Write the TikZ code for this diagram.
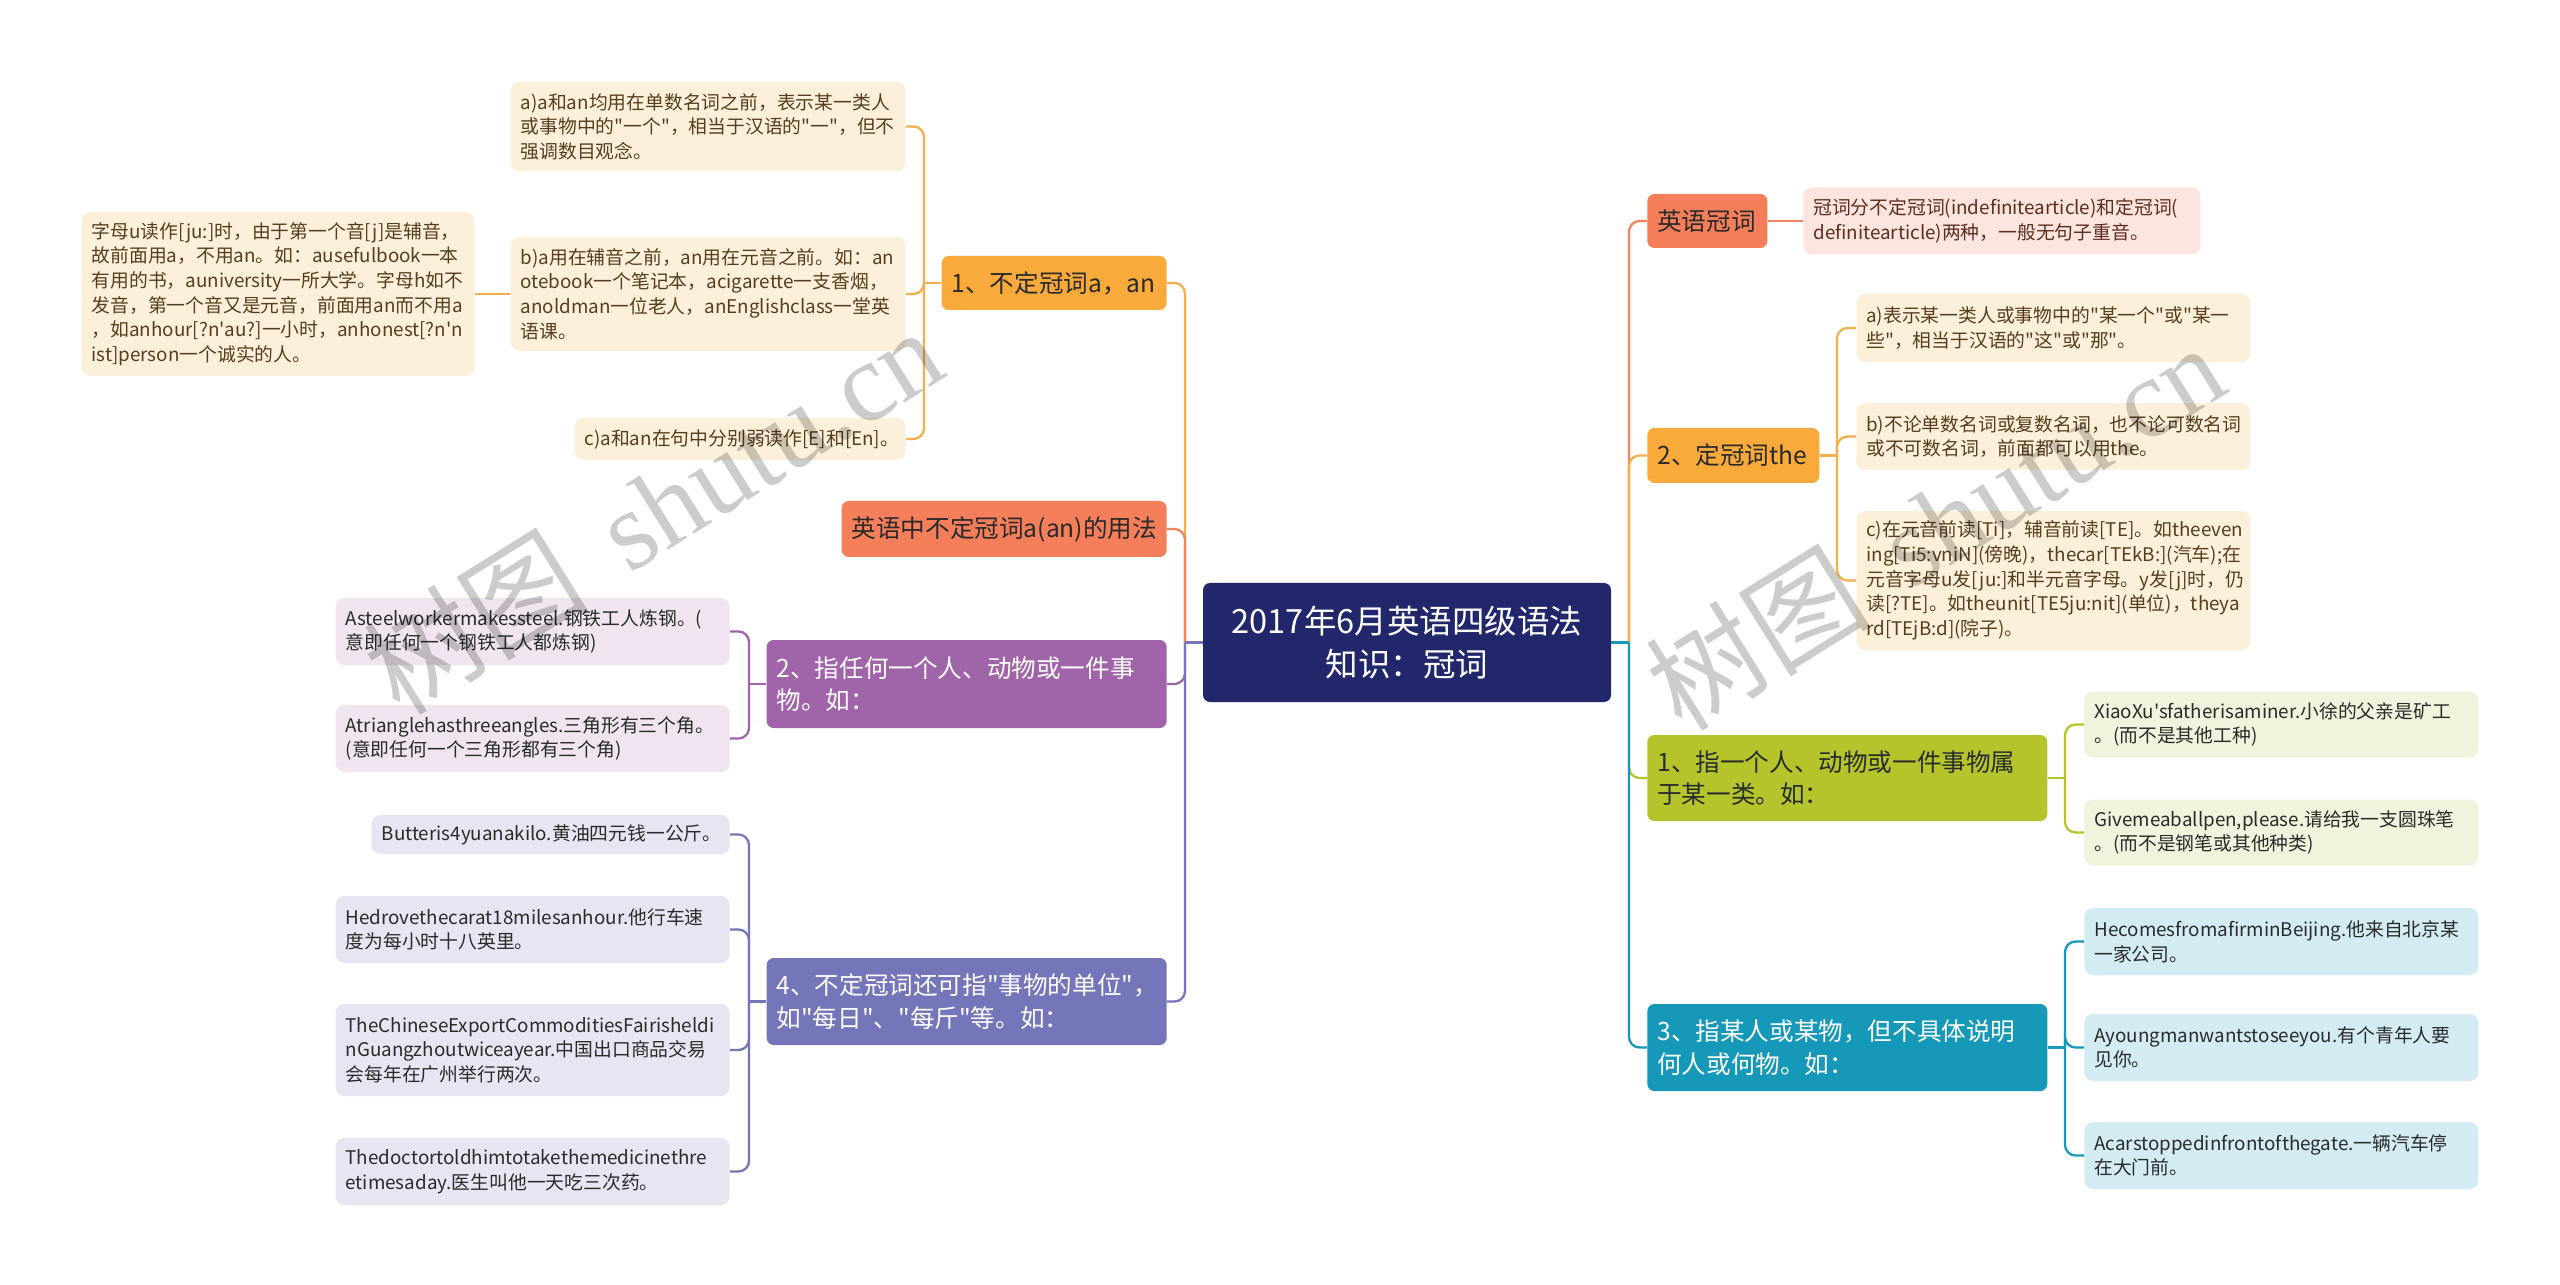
\documentclass[tikz,border=0pt]{standalone}
\usepackage{fontspec}
\setmainfont{Noto Sans CJK SC}
\usetikzlibrary{positioning}
\hyphenpenalty=10000
\exhyphenpenalty=10000
% plain fonts, so that " and ' stay straight
\font\rootfont="Noto Sans CJK SC" at 18.5pt
\font\topicfont="Noto Sans CJK SC" at 14pt
\font\leaffont="Noto Sans CJK SC" at 10.7pt
\font\markcjk="Noto Sans CJK SC" at 64pt
\font\marklatin="Liberation Serif" at 64pt
\definecolor{navy}{HTML}{22276B}
\definecolor{amber}{HTML}{F8AA3B}
\definecolor{amberline}{HTML}{F2AF4C}
\definecolor{creambg}{HTML}{FDF0DB}
\definecolor{coral}{HTML}{F47F5A}
\definecolor{coralline}{HTML}{F0845E}
\definecolor{pinkbg}{HTML}{FCE5DF}
\definecolor{plum}{HTML}{A064A8}
\definecolor{plumbg}{HTML}{EFE4F0}
\definecolor{slate}{HTML}{7575B9}
\definecolor{slatebg}{HTML}{E6E6F2}
\definecolor{olive}{HTML}{B5C42B}
\definecolor{olivebg}{HTML}{F1F4DC}
\definecolor{sea}{HTML}{1698B8}
\definecolor{seabg}{HTML}{D3ECF3}
\definecolor{ink}{HTML}{2A2A2A}
\definecolor{brownink}{HTML}{553E20}
\definecolor{rustink}{HTML}{5C2C1F}
\tikzset{
  root/.style={fill=navy, text=white, rounded corners=4pt, align=center,
               font=\fontsize{18.5}{24}\selectfont\rootfont, text width=7.8cm,
               inner xsep=0.18cm, inner ysep=0pt, minimum height=2.38cm},
  topic/.style={rounded corners=4pt, align=left, inner xsep=0.2cm, inner ysep=0pt,
               font=\fontsize{14}{18.6}\selectfont\topicfont},
  leaf/.style={rounded corners=5pt, align=left, inner xsep=0.2cm, inner ysep=0pt,
               font=\fontsize{10.7}{14}\selectfont\leaffont},
  creamnote/.style={leaf, fill=creambg, text=brownink},
  pinknote/.style={leaf, fill=pinkbg, text=rustink},
  plumnote/.style={leaf, fill=plumbg, text=ink},
  slatenote/.style={leaf, fill=slatebg, text=ink},
  olivenote/.style={leaf, fill=olivebg, text=ink},
  seanote/.style={leaf, fill=seabg, text=ink},
  link/.style={line width=1.3pt, rounded corners=6pt},
  wmark/.style={text=black, opacity=0.2, inner sep=0pt},
}
\begin{document}
\begin{tikzpicture}
  \fill[white] (0,0) rectangle (51.2,-25.7);
  \useasboundingbox (0,0) rectangle (51.2,-25.7);
  % ===================== root =====================
  \node[root] (root) at (28.14,-12.85) {2017年6月英语四级语法\\知识：冠词};
  \coordinate (lhub) at (23.7,-12.85);
  \coordinate (rhub) at (32.58,-12.85);
  % ===================== left topics =====================
  \node[topic, fill=amber, text=ink, text width=4.1cm, minimum height=1.08cm, anchor=east]
    (indef) at (23.34,-5.66) {1、不定冠词a，an};
  \node[topic, fill=coral, text=ink, text width=6.1cm, minimum height=1.12cm, anchor=east]
    (usage) at (23.34,-10.58) {英语中不定冠词a(an)的用法};
  \node[topic, fill=plum, text=white, text width=7.6cm, minimum height=1.76cm, anchor=east]
    (anyone) at (23.34,-13.68) {2、指任何一个人、动物或一件事\\物。如：};
  \node[topic, fill=slate, text=white, text width=7.6cm, minimum height=1.74cm, anchor=east]
    (unit) at (23.34,-20.03) {4、不定冠词还可指"事物的单位"，\\如"每日"、"每斤"等。如：};
  % ===================== left leaves =====================
  \node[creamnote, text width=7.5cm, minimum height=1.78cm, anchor=east] (indefa) at (18.12,-2.53)
    {a)a和an均用在单数名词之前，表示某一类人\\或事物中的"一个"，相当于汉语的"一"，但不\\强调数目观念。};
  \node[creamnote, text width=7.5cm, minimum height=2.28cm, anchor=east] (indefb) at (18.12,-5.88)
    {b)a用在辅音之前，an用在元音之前。如：an\\otebook一个笔记本，acigarette一支香烟，\\anoldman一位老人，anEnglishclass一堂英\\语课。};
  \node[creamnote, text width=6.22cm, minimum height=0.84cm, anchor=east] (indefc) at (18.12,-8.78)
    {c)a和an在句中分别弱读作[E]和[En]。};
  \node[creamnote, text width=7.46cm, minimum height=3.28cm, anchor=east] (letteru) at (9.5,-5.88)
    {字母u读作[ju:]时，由于第一个音[j]是辅音，\\故前面用a，不用an。如：ausefulbook一本\\有用的书，auniversity一所大学。字母h如不\\发音，第一个音又是元音，前面用an而不用a\\，如anhour[?n'au?]一小时，anhonest[?n'n\\ist]person一个诚实的人。};
  \node[plumnote, text width=7.48cm, minimum height=1.34cm, anchor=east] (steel) at (14.6,-12.63)
    {Asteelworkermakessteel.钢铁工人炼钢。(\\意即任何一个钢铁工人都炼钢)};
  \node[plumnote, text width=7.48cm, minimum height=1.34cm, anchor=east] (triangle) at (14.6,-14.77)
    {Atrianglehasthreeangles.三角形有三个角。\\(意即任何一个三角形都有三个角)};
  \node[slatenote, text width=6.76cm, minimum height=0.78cm, anchor=east] (butter) at (14.6,-16.69)
    {Butteris4yuanakilo.黄油四元钱一公斤。};
  \node[slatenote, text width=7.48cm, minimum height=1.34cm, anchor=east] (miles) at (14.6,-18.59)
    {Hedrovethecarat18milesanhour.他行车速\\度为每小时十八英里。};
  \node[slatenote, text width=7.48cm, minimum height=1.84cm, anchor=east] (fair) at (14.6,-21.0)
    {TheChineseExportCommoditiesFairisheldi\\nGuangzhoutwiceayear.中国出口商品交易\\会每年在广州举行两次。};
  \node[slatenote, text width=7.48cm, minimum height=1.34cm, anchor=east] (doctor) at (14.6,-23.43)
    {Thedoctortoldhimtotakethemedicinethre\\etimesaday.医生叫他一天吃三次药。};
  % ===================== right topics =====================
  \node[topic, fill=coral, text=ink, text width=2.0cm, minimum height=1.08cm, anchor=west]
    (article) at (32.94,-4.42) {英语冠词};
  \node[topic, fill=amber, text=ink, text width=3.04cm, minimum height=1.1cm, anchor=west]
    (defin) at (32.94,-9.11) {2、定冠词the};
  \node[topic, fill=olive, text=ink, text width=7.6cm, minimum height=1.72cm, anchor=west]
    (kind) at (32.94,-15.56) {1、指一个人、动物或一件事物属\\于某一类。如：};
  \node[topic, fill=sea, text=white, text width=7.6cm, minimum height=1.74cm, anchor=west]
    (someone) at (32.94,-20.95) {3、指某人或某物，但不具体说明\\何人或何物。如：};
  % ===================== right leaves =====================
  \node[pinknote, text width=7.54cm, minimum height=1.34cm, anchor=west] (twokinds) at (36.06,-4.42)
    {冠词分不定冠词(indefinitearticle)和定冠词(\\definitearticle)两种，一般无句子重音。};
  \node[creamnote, text width=7.48cm, minimum height=1.36cm, anchor=west] (defina) at (37.12,-6.56)
    {a)表示某一类人或事物中的"某一个"或"某一\\些"，相当于汉语的"这"或"那"。};
  \node[creamnote, text width=7.48cm, minimum height=1.34cm, anchor=west] (definb) at (37.12,-8.73)
    {b)不论单数名词或复数名词，也不论可数名词\\或不可数名词，前面都可以用the。};
  \node[creamnote, text width=7.48cm, minimum height=2.78cm, anchor=west] (definc) at (37.12,-11.61)
    {c)在元音前读[Ti]，辅音前读[TE]。如theeven\\ing[Ti5:vniN](傍晚)，thecar[TEkB:](汽车);在\\元音字母u发[ju:]和半元音字母。y发[j]时，仍\\读[?TE]。如theunit[TE5ju:nit](单位)，theya\\rd[TEjB:d](院子)。};
  \node[olivenote, text width=7.48cm, minimum height=1.32cm, anchor=west] (miner) at (41.68,-14.49)
    {XiaoXu'sfatherisaminer.小徐的父亲是矿工\\。(而不是其他工种)};
  \node[olivenote, text width=7.48cm, minimum height=1.32cm, anchor=west] (ballpen) at (41.68,-16.65)
    {Givemeaballpen,please.请给我一支圆珠笔\\。(而不是钢笔或其他种类)};
  \node[seanote, text width=7.48cm, minimum height=1.34cm, anchor=west] (firm) at (41.68,-18.83)
    {HecomesfromafirminBeijing.他来自北京某\\一家公司。};
  \node[seanote, text width=7.48cm, minimum height=1.34cm, anchor=west] (youngman) at (41.68,-20.95)
    {Ayoungmanwantstoseeyou.有个青年人要\\见你。};
  \node[seanote, text width=7.48cm, minimum height=1.34cm, anchor=west] (gate) at (41.68,-23.11)
    {Acarstoppedinfrontofthegate.一辆汽车停\\在大门前。};
  % ===================== root links =====================
  \draw[link, amberline] (lhub) |- (indef.east);
  \draw[link, coralline] (lhub) |- (usage.east);
  \draw[link, plum] (lhub) |- (anyone.east);
  \draw[link, slate] (lhub) |- (unit.east);
  \draw[link, slate] (root.west) -- (lhub);
  \draw[link, coralline] (rhub) |- (article.west);
  \draw[link, amberline] (rhub) |- (defin.west);
  \draw[link, olive] (rhub) |- (kind.west);
  \draw[link, sea] (rhub) |- (someone.west);
  \draw[link, sea] (root.east) -- (rhub);
  % ===================== leaf links =====================
  \coordinate (indeffork) at (18.48,-5.66);
  \draw[link, amberline] (indef.west) -- (indeffork);
  \foreach \leafname in {indefa,indefb,indefc}
    \draw[link, amberline] (indeffork) |- (\leafname.east);
  \draw[link, amberline] (indefb.west) -- (letteru.east);
  \coordinate (anyonefork) at (14.98,-13.68);
  \draw[link, plum] (anyone.west) -- (anyonefork);
  \foreach \leafname in {steel,triangle}
    \draw[link, plum] (anyonefork) |- (\leafname.east);
  \coordinate (unitfork) at (14.98,-20.03);
  \draw[link, slate] (unit.west) -- (unitfork);
  \foreach \leafname in {butter,miles,fair,doctor}
    \draw[link, slate] (unitfork) |- (\leafname.east);
  \draw[link, coralline] (article.east) -- (twokinds.west);
  \coordinate (definfork) at (36.74,-9.11);
  \draw[link, amberline] (defin.east) -- (definfork);
  \foreach \leafname in {defina,definb,definc}
    \draw[link, amberline] (definfork) |- (\leafname.west);
  \coordinate (kindfork) at (41.3,-15.56);
  \draw[link, olive] (kind.east) -- (kindfork);
  \foreach \leafname in {miner,ballpen}
    \draw[link, olive] (kindfork) |- (\leafname.west);
  \coordinate (someonefork) at (41.3,-20.95);
  \draw[link, sea] (someone.east) -- (someonefork);
  \foreach \leafname in {firm,youngman,gate}
    \draw[link, sea] (someonefork) |- (\leafname.west);
  % ===================== watermarks =====================
  \node[wmark, rotate=32] (wmleft) at (13.06,-10.2) {\markcjk 树图\hspace{0.4em}\marklatin shutu.cn};
  \node[wmark, rotate=32] (wmright) at (38.7,-10.52) {\markcjk 树图\hspace{0.4em}\marklatin shutu.cn};
\end{tikzpicture}
\end{document}
